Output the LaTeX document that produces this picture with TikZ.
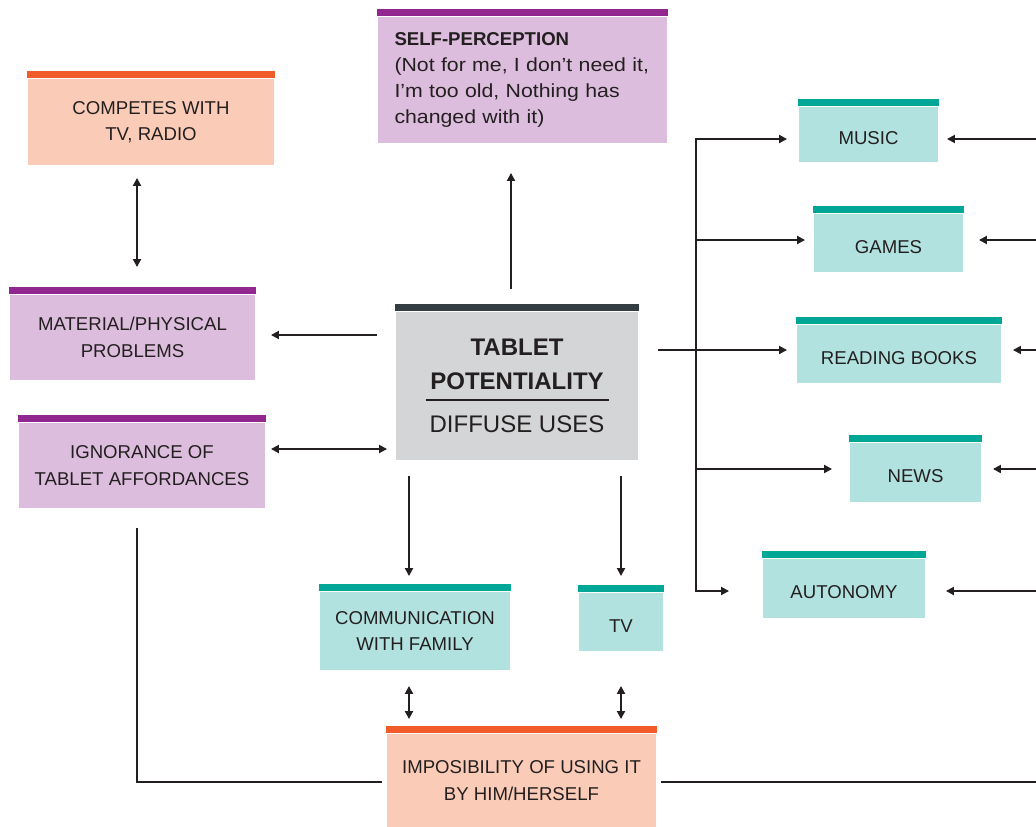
\documentclass[tikz,border=0pt]{standalone}
\usepackage{fontspec}
\setmainfont{Liberation Sans}
\newfontfamily\widesans[FakeStretch=1.12]{Liberation Sans}
\usetikzlibrary{arrows.meta}

\definecolor{lilac}{HTML}{DDBDDD}
\definecolor{lilacbar}{HTML}{92278F}
\definecolor{peach}{HTML}{FACCB7}
\definecolor{peachbar}{HTML}{F15A29}
\definecolor{mint}{HTML}{B2E2DF}
\definecolor{mintbar}{HTML}{00A696}
\definecolor{stone}{HTML}{D4D5D6}
\definecolor{stonebar}{HTML}{343E42}
\definecolor{ink}{HTML}{231F20}

\tikzset{
  card/.style 2 args={fill=#1, inner sep=0pt, align=center, text=ink,
    font=\fontsize{18.6}{26.5}\selectfont,
    append after command={\pgfextra{\fill[#2] (\tikzlastnode.north west)
      rectangle ([yshift=7pt]\tikzlastnode.north east);}}},
  lilaccard/.style={card={lilac}{lilacbar}},
  peachcard/.style={card={peach}{peachbar}},
  mintcard/.style={card={mint}{mintbar}},
  stonecard/.style={card={stone}{stonebar}},
  boxsize/.style 2 args={minimum width=#1pt, minimum height=#2pt},
  oneline/.style={text height=20pt, text depth=0pt}
}

\begin{document}
\begin{tikzpicture}[x=1pt, y=-1pt, line width=1.9pt, draw=ink,
    >={Triangle[length=8pt,width=8pt]}]
  \useasboundingbox (0,0) rectangle (1036,827);
  % Centre
  \node[stonecard, boxsize={242}{148}, font=\fontsize{24}{34}\selectfont] (tablet) at (517,386)
    {\textbf{TABLET}\\\textbf{POTENTIALITY}\\[-23pt]\rule{183pt}{1.4pt}\\[-2pt]DIFFUSE USES};
  % Top
  \node[lilaccard, boxsize={289}{126}, text width=256pt, align=left,
    font=\widesans\fontsize{19}{26}\selectfont] (self) at (522.5,80)
    {{\rmfamily\bfseries\fontsize{18.6}{26}\selectfont SELF-PERCEPTION}\\
     (Not for me, I don’t need it,\\I’m too old, Nothing has\\changed with it)};
  % Left
  \node[peachcard, boxsize={246}{86}] (competes) at (151,122) {COMPETES WITH\\TV, RADIO};
  \node[lilaccard, boxsize={245}{85}] (material) at (132.5,337.5) {MATERIAL/PHYSICAL\\PROBLEMS};
  \node[lilaccard, boxsize={246}{85}] (ignorance) at (142,465.5) {IGNORANCE OF\\TABLET AFFORDANCES};
  % Right
  \node[mintcard, oneline, boxsize={139}{55}] (music) at (868.5,134.5) {MUSIC};
  \node[mintcard, oneline, boxsize={149}{58}] (games) at (888.5,243) {GAMES};
  \node[mintcard, oneline, boxsize={204}{58}] (reading) at (899,354) {READING BOOKS};
  \node[mintcard, oneline, boxsize={131}{59}] (news) at (915.5,472.5) {NEWS};
  \node[mintcard, oneline, boxsize={162}{59}] (autonomy) at (844,588.5) {AUTONOMY};
  % Bottom
  \node[mintcard, boxsize={190}{78}] (family) at (415,631) {COMMUNICATION\\WITH FAMILY};
  \node[mintcard, oneline, boxsize={84}{58}] (tv) at (621,622) {TV};
  \node[peachcard, boxsize={269}{93}] (alone) at (521.5,780.5) {IMPOSIBILITY OF USING IT\\BY HIM/HERSELF};

  \coordinate (bus) at (696,0);
  \coordinate (edge) at (1036,0);

  % Arrows left and up
  \draw[->, shorten <=22pt, shorten >=29pt] ([xshift=-6pt]tablet.north) -- ([xshift=-6pt]tablet.north |- self.south);
  \draw[<->, shorten <=12pt, shorten >=27pt] ([xshift=-14pt]competes.south) -- ([xshift=-14pt]competes.south |- material.north);
  \draw[->, shorten <=18pt, shorten >=15pt] ([yshift=2.5pt]tablet.west |- material) -- ([yshift=2.5pt]material.east);
  \draw[<->, shorten <=5pt, shorten >=8pt] ([yshift=16.5pt]ignorance.east) -- ([yshift=16.5pt]ignorance.east -| tablet.west);
  % Arrows right
  \draw[->, shorten <=19pt, shorten >=9pt] ([yshift=4pt]tablet.east |- reading) -- ([yshift=4pt]reading.west);
  \draw[->, shorten >=11pt] ([yshift=-2.5pt]bus |- autonomy) -- ([yshift=-4.5pt]bus |- music) -- ([yshift=-4.5pt]music.west);
  \draw[->, shorten >=8pt] ([yshift=3pt]bus |- games) -- ([yshift=3pt]games.west);
  \draw[->, shorten >=17pt] ([yshift=3.5pt]bus |- news) -- ([yshift=3.5pt]news.west);
  \draw[->, shorten >=33pt] (bus |- news) -- ([yshift=-2.5pt]bus |- autonomy) -- ([yshift=-2.5pt]autonomy.west);
  \draw[->, shorten >=8pt] ([yshift=-4.5pt]edge |- music) -- ([yshift=-4.5pt]music.east);
  \draw[->, shorten >=15pt] ([yshift=3pt]edge |- games) -- ([yshift=3pt]games.east);
  \draw[->, shorten >=11pt] ([yshift=4pt]edge |- reading) -- ([yshift=4pt]reading.east);
  \draw[->, shorten >=11pt] ([yshift=3.5pt]edge |- news) -- ([yshift=3.5pt]news.east);
  \draw[->, shorten >=20pt] ([yshift=-2.5pt]edge |- autonomy) -- ([yshift=-2.5pt]autonomy.east);
  % Arrows down
  \draw[->, shorten <=15pt, shorten >=15pt] ([xshift=-6pt]family.north |- tablet.south) -- ([xshift=-6pt]family.north);
  \draw[->, shorten <=15pt, shorten >=16pt] (tv.north |- tablet.south) -- (tv.north);
  \draw[<->, shorten <=15pt, shorten >=14pt] ([xshift=-6pt]family.south) -- ([xshift=-6pt]family.south |- alone.north);
  \draw[<->, shorten <=34pt, shorten >=14pt] (tv.south) -- (tv.south |- alone.north);
  % Bottom line
  \draw[shorten <=19pt, shorten >=4pt] ([xshift=-5pt]ignorance.south) |- ([yshift=-1.5pt]alone.west);
  \draw[shorten <=4pt] ([yshift=-1.5pt]alone.east) -- ([yshift=-1.5pt]edge |- alone);
\end{tikzpicture}
\end{document}
